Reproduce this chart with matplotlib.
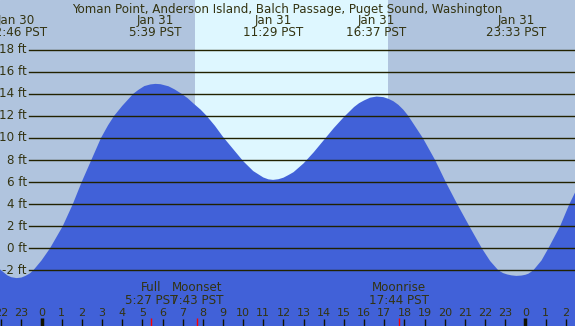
import numpy as np
import matplotlib
matplotlib.use('Agg')
import matplotlib.pyplot as plt
from matplotlib.transforms import blended_transform_factory

# Tide heights (hours from midnight Jan 31 PST, feet)
tide_hours = [-2.1, -1.7, -1.5, -1.233, -1.0, -0.8, -0.6, -0.41, 0.0, 0.42,
              1.05, 1.55, 1.99, 2.47, 2.95, 3.3, 3.6, 4.0, 4.3, 4.55,
              4.8, 5.1, 5.4, 5.65, 5.9, 6.3, 6.6, 6.95, 7.25, 7.55,
              7.9, 8.19, 8.6, 9.0, 9.5, 10.0, 10.5, 10.75, 11.0, 11.25,
              11.483, 11.75, 12.0, 12.25, 12.5, 13.0, 13.5, 14.0, 14.5, 15.0,
              15.5, 15.75, 16.0, 16.3, 16.617, 16.95, 17.2, 17.45, 17.7, 17.95,
              18.19, 18.91, 19.52, 20.05, 20.62, 21.22, 21.84, 22.25, 22.66, 22.9,
              23.1, 23.3, 23.55, 23.8, 24.0, 24.15, 24.39, 24.8, 25.14, 25.72,
              26.18, 26.5]
tide_ft = [-1.85, -2.45, -2.62, -2.7, -2.65, -2.5, -2.3, -2.0, -1.1, 0.0,
           2.0, 4.0, 6.0, 8.0, 10.0, 11.15, 12.0, 12.9, 13.5, 14.0,
           14.35, 14.7, 14.85, 14.9, 14.87, 14.68, 14.4, 14.0, 13.6, 13.1,
           12.55, 12.0, 11.1, 10.1, 9.0, 7.9, 7.0, 6.71, 6.42, 6.25,
           6.2, 6.26, 6.4, 6.64, 6.9, 7.7, 8.7, 9.8, 10.9, 11.9,
           12.8, 13.15, 13.4, 13.65, 13.75, 13.7, 13.55, 13.33, 13.0, 12.55,
           12.0, 10.0, 8.0, 6.0, 4.0, 2.0, 0.0, -1.15, -2.0, -2.25,
           -2.37, -2.45, -2.5, -2.47, -2.4, -2.3, -2.0, -1.1, 0.0, 2.0,
           4.0, 5.2]

# High / low tide labels along the top
extreme_hours = [-1.233, 5.65, 11.483, 16.617, 23.55]
extreme_dates = ['Jan 30', 'Jan 31', 'Jan 31', 'Jan 31', 'Jan 31']
extreme_times = ['22:46 PST', '5:39 PST', '11:29 PST', '16:37 PST', '23:33 PST']

# Moon events along the bottom
moon_hours = [5.45, 7.717, 17.733]
moon_names = ['Full', 'Moonset', 'Moonrise']
moon_times = ['5:27 PST', '7:43 PST', '17:44 PST']

sunrise = 7.61
sunset = 17.18

hour_ticks = list(range(-2, 27))
ft_levels = list(range(-2, 19, 2))

title = 'Yoman Point, Anderson Island, Balch Passage, Puget Sound, Washington'

night_color = '#b0c4de'
day_color = '#def7ff'
water_color = '#4161d8'
ink = '#333311'
fs = 8.55

fig = plt.figure(figsize=(5.75, 3.26), dpi=100)
ax = fig.add_axes([0, 0, 1, 1])
ax.set_xlim(-2.06, 26.46)
ax.set_ylim(-7.04, 22.5)
ax.axis('off')
ax.add_patch(plt.Rectangle((0, 0), 1, 1, transform=ax.transAxes,
                           color=night_color, zorder=0))

# daylight band
ax.axvspan(sunrise, sunset, color=day_color, zorder=1, lw=0)

# water
ax.fill_between(tide_hours, tide_ft, -10, color=water_color, lw=0, zorder=2)

# grid lines and labels
left = blended_transform_factory(ax.transAxes, ax.transData)
for lv in ft_levels:
    ax.axhline(lv, xmin=29/575, xmax=1, color='#222200', lw=1.0, zorder=3)
    ax.text(27/575, lv, '%d ft' % lv, transform=left,
            ha='right', va='center', fontsize=fs, color=ink, zorder=4)

# top labels
ax.text(0.5, 1 - 12.7/326, title, transform=ax.transAxes, ha='center', va='baseline',
        fontsize=fs, color=ink, zorder=5)
top = blended_transform_factory(ax.transData, ax.transAxes)
for h, d, t in zip(extreme_hours, extreme_dates, extreme_times):
    ax.text(h, 1 - 24/326, d, transform=top, ha='center', va='baseline', fontsize=fs, color=ink, zorder=5)
    ax.text(h, 1 - 36/326, t, transform=top, ha='center', va='baseline', fontsize=fs, color=ink, zorder=5)

# moon labels
for h, n, t in zip(moon_hours, moon_names, moon_times):
    ax.text(h, 1 - 291/326, n, transform=top, ha='center', va='baseline', fontsize=fs, color=ink, zorder=5)
    ax.text(h, 1 - 304/326, t, transform=top, ha='center', va='baseline', fontsize=fs, color=ink, zorder=5)

# hour ticks along the bottom
for h in hour_ticks:
    ax.text(h, 1 - 316/326, str(h % 24), transform=top, ha='center', va='baseline',
            fontsize=8.0, color=ink, zorder=5)
    if h % 24 == 0:
        ax.plot([h, h], [0, 8/326], transform=top, color='#111100', lw=2.5,
                solid_capstyle='butt', zorder=5)
    else:
        ax.plot([h, h], [0, 7/326], transform=top, color='#111100', lw=1.0,
                solid_capstyle='butt', zorder=5)
for h in moon_hours:
    ax.plot([h, h], [0, 8/326], transform=top, color='#ff0000', lw=1.0,
            solid_capstyle='butt', zorder=6)

fig.savefig('out.png', dpi=100)
